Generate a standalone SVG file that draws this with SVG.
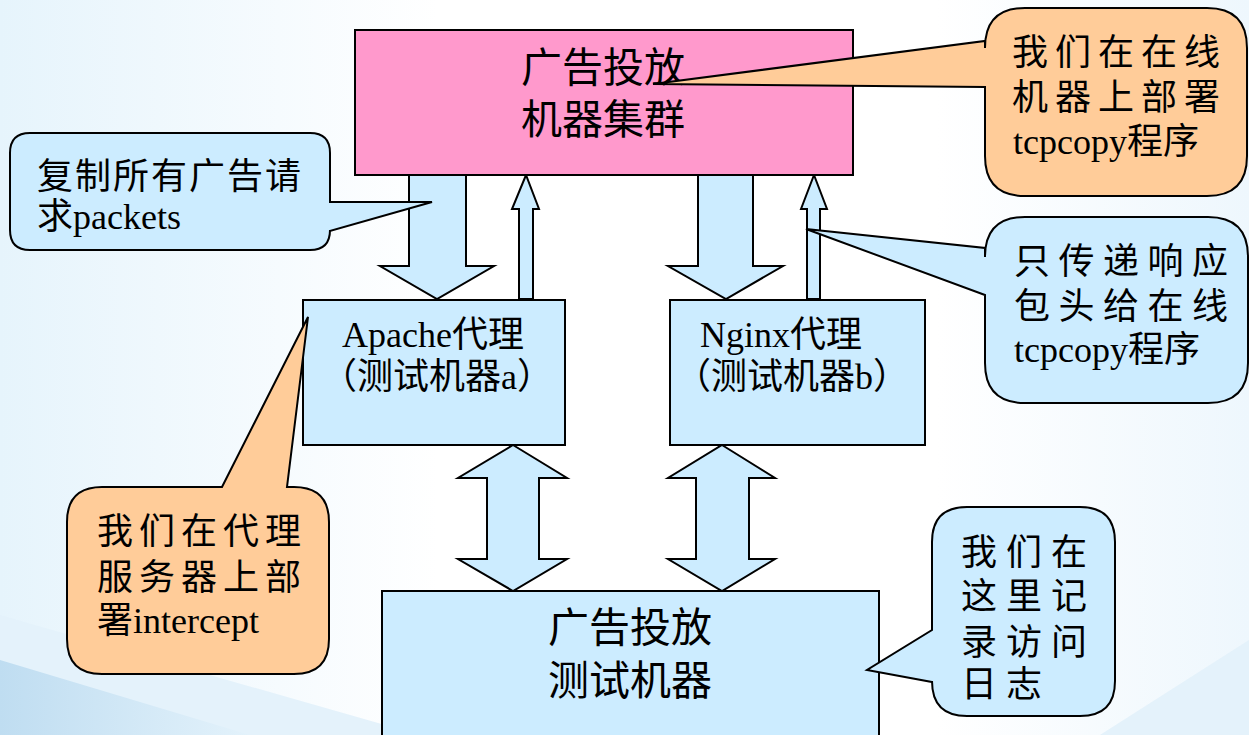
<svg xmlns="http://www.w3.org/2000/svg" width="1249" height="735" viewBox="0 0 1249 735">
<defs>
<linearGradient id="bg" x1="0" y1="0" x2="1" y2="0">
<stop offset="0" stop-color="#E6F4FC"/>
<stop offset="0.35" stop-color="#FFFFFF"/>
<stop offset="0.75" stop-color="#FFFFFF"/>
<stop offset="1" stop-color="#EEF7FD"/>
</linearGradient>
<linearGradient id="band" x1="0" y1="0" x2="1" y2="0">
<stop offset="0" stop-color="#BFDDF1"/>
<stop offset="1" stop-color="#E3F2FB"/>
</linearGradient>
<style>
.box{stroke:#000;stroke-width:2}
.pink{fill:#FF99CC}
.blue{fill:#CCECFF}
.orange{fill:#FFCC99}
.arrow{fill:#CCECFF;stroke:#000;stroke-width:2;stroke-linejoin:miter}
text{font-family:'Liberation Serif','Noto Sans CJK SC',serif;fill:#000}
.big{font-size:41px}
.mid{font-size:36px}
</style>
</defs>
<rect x="0" y="0" width="1249" height="735" fill="url(#bg)"/>
<polygon points="0,615 420,735 0,735" fill="#E4F2FB"/>
<polygon points="0,660 250,735 0,735" fill="url(#band)"/>
<polygon points="1100,735 1249,640 1249,735" fill="#E4F2FB"/>

<g id="connectors">
<polygon class="arrow" points="409,175 466,175 466,266 494,266 437,299 380,266 409,266"/>
<polygon class="arrow" points="519,299 533,299 533,209 539,209 526,175 512,209 519,209"/>
<polygon class="arrow" points="698,175 753,175 753,266 783,266 726,299 668,266 698,266"/>
<polygon class="arrow" points="807,299 820,299 820,209 827,209 814,175 801,209 807,209"/>
<polygon class="arrow" points="513,445 567,478 539,478 539,559 567,559 513,591 458,559 487,559 487,478 458,478"/>
<polygon class="arrow" points="722,445 775,478 749,478 749,559 775,559 722,591 668,559 696,559 696,478 668,478"/>
</g>

<g id="node-cluster">
<rect class="box pink" x="355" y="30" width="498" height="145"/>
<text class="big" x="603" y="82" text-anchor="middle">广告投放</text>
<text class="big" x="603" y="134" text-anchor="middle">机器集群</text>
</g>

<g id="node-apache">
<rect class="box blue" x="303" y="300" width="262" height="145"/>
<text class="mid" x="342" y="347">Apache代理</text>
<text class="mid" x="437" y="389" text-anchor="middle">（测试机器a）</text>
</g>

<g id="node-nginx">
<rect class="box blue" x="670" y="300" width="255" height="145"/>
<text class="mid" x="700" y="347">Nginx代理</text>
<text class="mid" x="792" y="389" text-anchor="middle">（测试机器b）</text>
</g>

<g id="node-test">
<rect class="box blue" x="382" y="591" width="497" height="160"/>
<text class="big" x="630" y="642" text-anchor="middle">广告投放</text>
<text class="big" x="630" y="695" text-anchor="middle">测试机器</text>
</g>

<g id="callout-copy">
<path class="box blue" d="M30,133 H310 Q330,133 330,153 V202 L432,202 L330,231 V230 Q330,250 310,250 H30 Q10,250 10,230 V153 Q10,133 30,133 Z"/>
<text class="mid" x="37" y="189" letter-spacing="2">复制所有广告请</text>
<text class="mid" x="37" y="229">求packets</text>
</g>

<g id="callout-tcpcopy">
<path class="box orange" d="M1025,8 H1207 Q1247,8 1247,48 V156 Q1247,196 1207,196 H1025 Q985,196 985,156 V87 L653,84 L985,41 V48 Q985,8 1025,8 Z"/>
<text class="mid" x="1012" y="65" letter-spacing="7">我们在在线</text>
<text class="mid" x="1012" y="110" letter-spacing="7">机器上部署</text>
<text class="mid" x="1013" y="154">tcpcopy程序</text>
</g>

<g id="callout-response">
<path class="box blue" d="M1025,217 H1208 Q1248,217 1248,257 V363 Q1248,403 1208,403 H1025 Q985,403 985,363 V295 L806,229 L985,248 V257 Q985,217 1025,217 Z"/>
<text class="mid" x="1014" y="274" letter-spacing="8.5">只传递响应</text>
<text class="mid" x="1014" y="319" letter-spacing="8.5">包头给在线</text>
<text class="mid" x="1014" y="362">tcpcopy程序</text>
</g>

<g id="callout-intercept">
<path class="box orange" d="M102,487 H222 L308,317 L287,487 H294 Q329,487 329,522 V639 Q329,674 294,674 H102 Q67,674 67,639 V522 Q67,487 102,487 Z"/>
<text class="mid" x="97" y="544" letter-spacing="6">我们在代理</text>
<text class="mid" x="97" y="590" letter-spacing="6">服务器上部</text>
<text class="mid" x="97" y="633">署intercept</text>
</g>

<g id="callout-log">
<path class="box blue" d="M967,507 H1080 Q1115,507 1115,542 V681 Q1115,716 1080,716 H967 Q932,716 932,681 V682 L867,670 L932,630 V542 Q932,507 967,507 Z"/>
<text class="mid" x="961" y="565" letter-spacing="9">我们在</text>
<text class="mid" x="961" y="609" letter-spacing="9">这里记</text>
<text class="mid" x="961" y="655" letter-spacing="9">录访问</text>
<text class="mid" x="961" y="697" letter-spacing="9">日志</text>
</g>
</svg>
